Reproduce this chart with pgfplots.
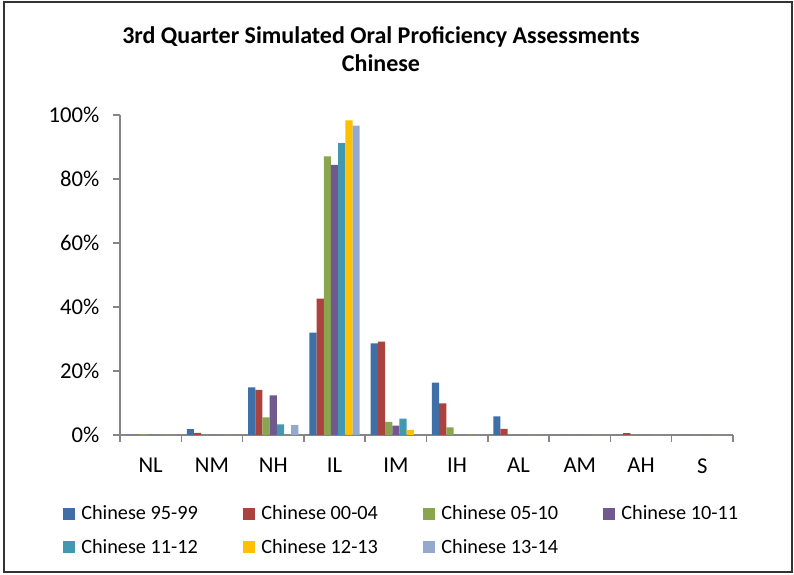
\documentclass[border=0pt]{standalone}
\usepackage{fontspec}
\setmainfont{Carlito}
\usepackage{pgfplots}
\pgfplotsset{compat=1.18}

\definecolor{cA}{RGB}{62,112,167}
\definecolor{cB}{RGB}{170,66,62}
\definecolor{cC}{RGB}{137,165,78}
\definecolor{cD}{RGB}{113,88,143}
\definecolor{cE}{RGB}{65,152,175}
\definecolor{cF}{RGB}{255,192,0}
\definecolor{cG}{RGB}{147,169,207}
\definecolor{axgray}{RGB}{134,134,134}

\begin{document}
\begin{tikzpicture}[x=1pt,y=1pt]
% page and outer frame
\path[use as bounding box] (0,0) rectangle (595.5,431.25);
\draw[line width=1pt, black!80] (3,2.25) rectangle (594,429.75);

% title
\node[anchor=base, font=\fontsize{18}{21}\selectfont\bfseries] at (285.75,398.25) {3rd Quarter Simulated Oral Proficiency Assessments};
\node[anchor=base, font=\fontsize{18}{21}\selectfont\bfseries] at (285.75,377.25) {Chinese};

\begin{axis}[
  at={(90pt,105pt)}, anchor=south west,
  scale only axis,
  width=459.75pt, height=240pt,
  ybar=0pt, bar width=0.1174,
  xmin=-0.5, xmax=9.5,
  ymin=0, ymax=100,
  axis x line*=bottom, axis y line*=left,
  axis line style={axgray, line width=1.1pt},
  xtick={0,...,9},
  xticklabels={NL,NM,NH,IL,IM,IH,AL,AM,AH,S},
  major x tick style={draw=none},
  minor xtick={-0.5,0.5,...,9.5},
  minor x tick style={axgray, line width=1.1pt},
  minor tick length=5pt,
  ytick={0,20,...,100},
  y tick style={axgray, line width=1.1pt},
  major tick length=5pt,
  tick align=outside,
  yticklabel={\pgfmathprintnumber{\tick}\%},
  /pgf/number format/assume math mode=true,
  tick label style={font=\fontsize{17}{20}\selectfont},
  xticklabel style={yshift=-9pt},
  yticklabel style={xshift=-7pt},
  legend columns=4,
  legend style={
    at={(-0.093,-0.2125)}, anchor=north west,
    draw=none, fill=none, inner sep=0pt,
    font=\fontsize{15.2}{18}\selectfont,
    row sep=9pt,
    nodes={inner xsep=4.5pt},
    /tikz/every even column/.append style={column sep=29.5pt},
  },
  legend image code/.code={\fill[#1] (0pt,-4.5pt) rectangle (9pt,4.5pt);},
  every axis plot/.append style={draw=none},
]
\addplot[fill=cA] coordinates {(0,0) (1,1.8) (2,14.9) (3,32.0) (4,28.6) (5,16.4) (6,5.8) (7,0) (8,0) (9,0)};
\addplot[fill=cB] coordinates {(0,0) (1,0.7) (2,14.1) (3,42.6) (4,29.2) (5,9.9) (6,1.9) (7,0) (8,0.6) (9,0)};
\addplot[fill=cC] coordinates {(0,0.3) (1,0) (2,5.5) (3,87.1) (4,4.1) (5,2.4) (6,0) (7,0) (8,0) (9,0)};
\addplot[fill=cD] coordinates {(0,0) (1,0) (2,12.4) (3,84.4) (4,2.9) (5,0) (6,0) (7,0) (8,0) (9,0)};
\addplot[fill=cE] coordinates {(0,0) (1,0) (2,3.3) (3,91.2) (4,5.1) (5,0) (6,0) (7,0) (8,0) (9,0)};
\addplot[fill=cF] coordinates {(0,0) (1,0) (2,0) (3,98.3) (4,1.6) (5,0) (6,0) (7,0) (8,0) (9,0)};
\addplot[fill=cG] coordinates {(0,0) (1,0) (2,3.1) (3,96.7) (4,0) (5,0) (6,0) (7,0) (8,0) (9,0)};
\legend{Chinese 95-99, Chinese 00-04, Chinese 05-10, Chinese 10-11, Chinese 11-12, Chinese 12-13, Chinese 13-14}
\end{axis}
\end{tikzpicture}
\end{document}
